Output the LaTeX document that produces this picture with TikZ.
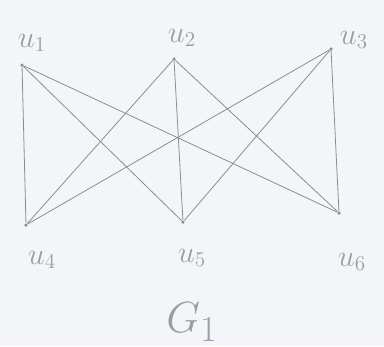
\documentclass[tikz,border=0pt]{standalone}
\usepackage{tikz}
\usetikzlibrary{positioning}
\definecolor{paper}{HTML}{F4F5F9}
\definecolor{pencil}{HTML}{8A8C94}
\definecolor{lead}{HTML}{9A9CA6}
\tikzset{
  vtx/.style={circle, fill=pencil, inner sep=0pt, minimum size=2pt},
  vlabel/.style={text=lead, font=\LARGE},
  edge/.style={draw=pencil, line width=0.45pt}}

\begin{document}
\begin{tikzpicture}[x=0.02cm, y=-0.02cm]
    \fill[paper] (0,0) rectangle (384,346);
    \useasboundingbox (0,0) rectangle (384,346);
    % vertices
    \node[vtx] (u1) at (22,65) {};
    \node[vtx] (u2) at (174,59) {};
    \node[vtx] (u3) at (331,49) {};
    \node[vtx] (u4) at (26,225) {};
    \node[vtx] (u5) at (183,222) {};
    \node[vtx] (u6) at (339,213) {};
    % labels
    \node[vlabel] (l1) at (32,43) {$u_1$};
    \node[vlabel] (l2) at (182,38) {$u_2$};
    \node[vlabel] (l3) at (354,40) {$u_3$};
    \node[vlabel] (l4) at (42,260) {$u_4$};
    \node[vlabel] (l5) at (192,258) {$u_5$};
    \node[vlabel] (l6) at (352,262) {$u_6$};
    \node[text=lead, font=\Huge] (g1) at (192,322) {$G_1$};
    % edges
    \foreach \a in {u1,u2,u3}
      \foreach \b in {u4,u5,u6}
        \draw[edge] (\a) -- (\b);
  \end{tikzpicture}
\end{document}
